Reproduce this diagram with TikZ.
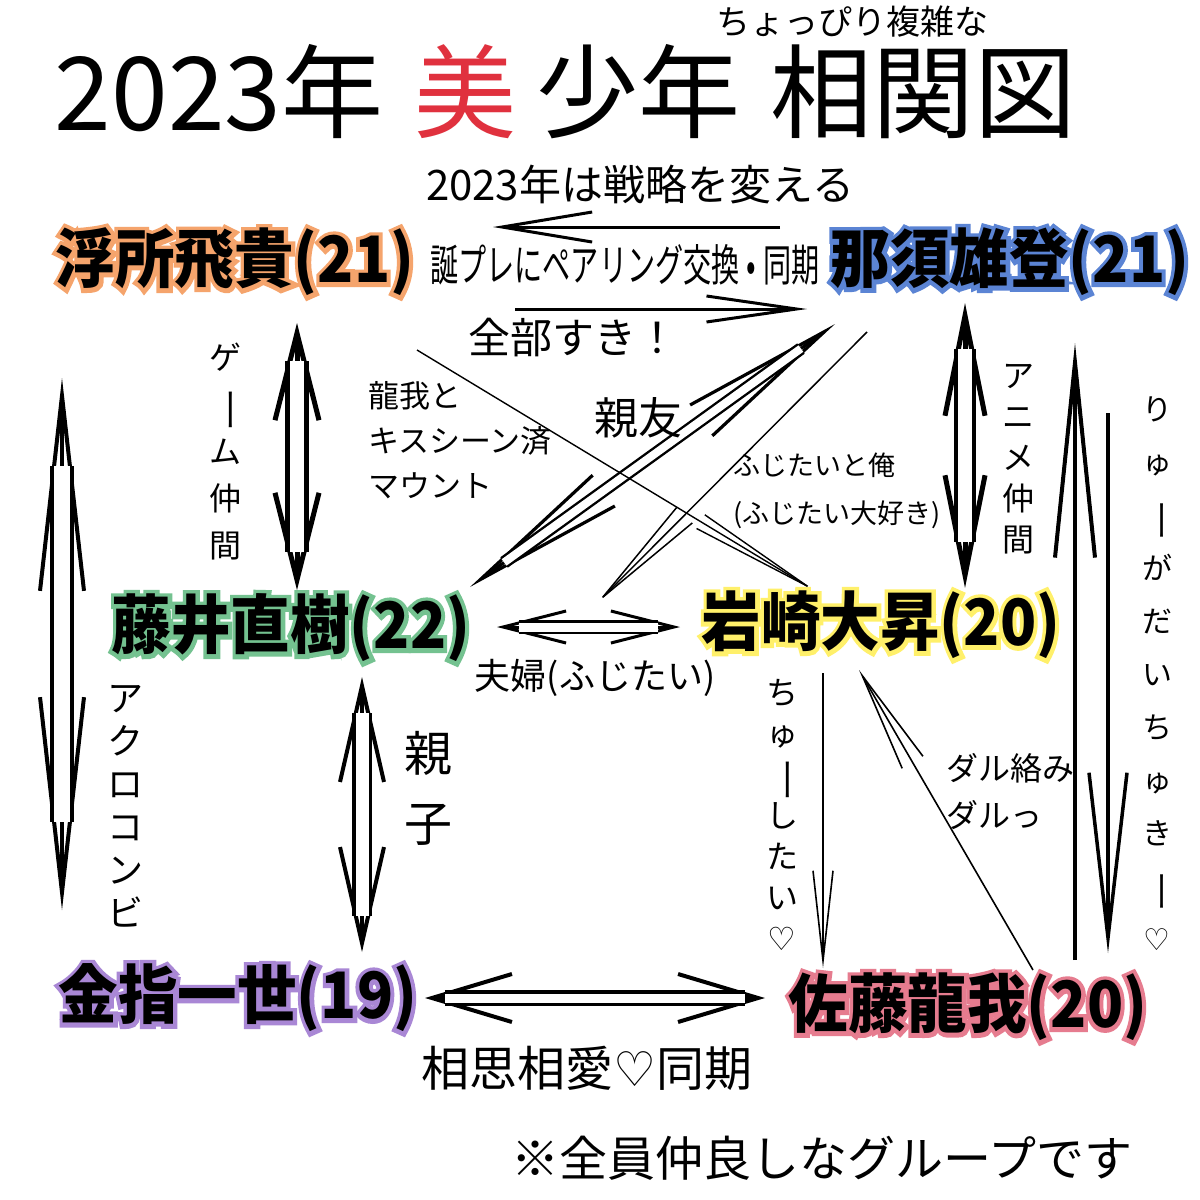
\documentclass[tikz,border=0pt]{standalone}
\usepackage{fontspec}
\setmainfont{Noto Sans CJK JP}
\newfontfamily\symfont{DejaVu Sans}
\newfontfamily\glowfont{Noto Sans CJK JP}[FakeBold=13, BoldFeatures={FakeBold=13}]
\usetikzlibrary{arrows.meta,calc}

\definecolor{bired}{HTML}{E0313E}
\definecolor{ukishoc}{HTML}{F5A46C}
\definecolor{nasuc}{HTML}{5B84D4}
\definecolor{fujiic}{HTML}{74C290}
\definecolor{iwasakic}{HTML}{FFF06A}
\definecolor{kanazashic}{HTML}{A987D5}
\definecolor{satoc}{HTML}{E67C8F}

\newcommand\heart{{\symfont ♡}}
\newcommand\vbar{\smash{\rotatebox[origin=c]{-90}{\scalebox{1.4}[1]{ー}}}}
\newcommand\halo[2]{\scalebox{.93}[1]{\rlap{\glowfont\textcolor{#1}{#2}}#2}}

\tikzset{
  txt/.style 2 args={inner sep=0pt, font=\fontsize{#1}{#2}\selectfont},
  person/.style={inner sep=0pt, font=\fontsize{32}{32}\selectfont\bfseries},
  tip/.style 2 args={>={Straight Barb[length=#1,width=#2]}, ->},
  tips/.style 2 args={>={Straight Barb[length=#1,width=#2]}, <->},
  pair/.style 2 args={double, double distance=#1, line width=#2},
}

\begin{document}
\begin{tikzpicture}[x=0.5pt, y=-0.5pt]
\fill[white] (0,0) rectangle (1200,1200);
\useasboundingbox (0,0) rectangle (1200,1200);

\node[txt={17}{17}] (sub) at (852,22) {ちょっぴり複雑な};
\node[txt={51}{51}] (title) at (566,92) {2023年\hspace{.3em}\textcolor{bired}{美}\hspace{.2em}少年\hspace{.3em}相関図};

\node[person] (ukisho) at (235,262) {\halo{ukishoc}{浮所飛貴(21)}};
\node[person] (nasu) at (1010,262) {\halo{nasuc}{那須雄登(21)}};
\node[person] (fujii) at (291,628) {\halo{fujiic}{藤井直樹(22)}};
\node[person] (iwasaki) at (881,625) {\halo{iwasakic}{岩崎大昇(20)}};
\node[person] (kanazashi) at (238,998) {\halo{kanazashic}{金指一世(19)}};
\node[person] (sato) at (968,1007) {\halo{satoc}{佐藤龍我(20)}};
\coordinate (fujitai) at (597,603);

\draw[line width=2.5pt, tips={43.5pt}{22pt}] ($(ukisho)+(62,61)$) -- ($(fujii)+(6,-38)$);
\draw[pair={7pt}{2.5pt}, shorten <=19pt, shorten >=19pt] ($(ukisho)+(62,61)$) -- ($(fujii)+(6,-38)$);
\draw[line width=2.5pt, tips={50pt}{20pt}] ($(nasu)+(-45,41)$) -- ($(iwasaki)+(84,-37)$);
\draw[pair={7pt}{2.2pt}, shorten <=23pt, shorten >=23pt] ($(nasu)+(-45,41)$) -- ($(iwasaki)+(84,-37)$);
\draw[line width=2pt, tips={97.5pt}{22pt}] ($(ukisho)+(-173,116)$) -- ($(kanazashi)+(-176,-88)$);
\draw[pair={8pt}{2pt}, shorten <=44pt, shorten >=44pt] ($(ukisho)+(-173,116)$) -- ($(kanazashi)+(-176,-88)$);
\draw[line width=2pt, tips={48pt}{22pt}] ($(fujii)+(71,49)$) -- ($(kanazashi)+(124,-46)$);
\draw[pair={6.5pt}{1.8pt}, shorten <=18pt, shorten >=18pt] ($(fujii)+(71,49)$) -- ($(kanazashi)+(124,-46)$);
\draw[line width=1.5pt, tips={31.5pt}{16pt}] ($(fujii)+(206,-1)$) -- ($(iwasaki)+(-201,2)$);
\draw[pair={4.5pt}{1.3pt}, shorten <=11pt, shorten >=11pt] ($(fujii)+(206,-1)$) -- ($(iwasaki)+(-201,2)$);
\draw[line width=2pt, tips={40pt}{24pt}] ($(kanazashi)+(187,0)$) -- ($(sato)+(-203,-9)$);
\draw[pair={4.5pt}{1.6pt}, shorten <=10pt, shorten >=10pt] ($(kanazashi)+(187,0)$) -- ($(sato)+(-203,-9)$);
\draw[line width=1.6pt, tips={76pt}{19pt}] ($(fujii)+(179,-41)$) -- ($(nasu)+(-175,62)$);
\draw[pair={4pt}{1.2pt}, shorten <=21pt, shorten >=21pt] ($(fujii)+(179,-41)$) -- ($(nasu)+(-175,62)$);

\draw[line width=1.5pt, tip={45pt}{15pt}] ($(nasu)+(-230,-35)$) -- ($(ukisho)+(258,-35)$);
\draw[line width=1.5pt, tip={45pt}{13pt}] ($(ukisho)+(280,47)$) -- ($(nasu)+(-203,47)$);
\draw[line width=.7pt, tip={62.5pt}{8pt}] ($(ukisho)+(182,88)$) -- ($(iwasaki)+(-64,-33)$);
\draw[line width=.75pt, tip={58pt}{11pt}] ($(nasu)+(-143,70)$) -- (fujitai);
\draw[line width=.8pt, tip={45pt}{10pt}] ($(iwasaki)+(-58,48)$) -- ($(sato)+(-145,-39)$);
\draw[line width=.8pt, tip={50pt}{12pt}] ($(sato)+(65,-37)$) -- ($(iwasaki)+(-22,45)$);
\draw[line width=2pt, tip={97.5pt}{20pt}] ($(sato)+(107,-47)$) -- ($(nasu)+(65,81)$);
\draw[line width=1.75pt, tip={82.5pt}{19pt}] ($(nasu)+(98,151)$) -- ($(sato)+(140,-54)$);

\node[txt={21}{21}] (strategy) at (640,185) {2023年は戦略を変える};
\node[txt={22}{22}] (ring) at (625,265) {\scalebox{0.64}[1]{誕プレにペアリング交換\hspace{.25em}•\hspace{.25em}同期}};
\node[txt={21}{21}] (suki) at (573,338) {全部すき！};
\node[txt={16}{23.5}, align=center] (game) at (225,452) {ゲ\\\vbar\\ム\\仲\\間};
\node[txt={15.5}{22.5}, align=left, anchor=west] (kiss) at (368,440) {龍我と\\キスシーン済\\マウント};
\node[txt={22}{22}] (shinyu) at (638,418) {親友};
\node[txt={13.5}{24}, align=left, anchor=west] (love) at (733,491) {ふじたいと俺\\(ふじたい大好き)};
\node[txt={16}{20.5}, align=center] (anime) at (1018,459) {ア\\ニ\\メ\\仲\\間};
\node[txt={15}{26.5}, align=center] (ryuga) at (1157,674) {り\\ゅ\\\vbar\\が\\だ\\い\\ち\\ゅ\\き\\\vbar\\\heart};
\node[txt={18}{18}] (fufu) at (595,678) {夫婦(ふじたい)};
\node[txt={18}{21.5}, align=center] (acro) at (125,806) {ア\\ク\\ロ\\コ\\ン\\ビ};
\node[txt={24}{35}, align=center] (oyako) at (428,788) {親\\子};
\node[txt={16}{20.5}, align=center] (chu) at (782,815) {ち\\ゅ\\\vbar\\し\\た\\い\\\heart};
\node[txt={16}{23.5}, align=left, anchor=west] (daru) at (946,792) {ダル絡み\\ダルっ};
\node[txt={24}{24}] (soshi) at (587,1068) {相思相愛\heart 同期};
\node[txt={24}{24}] (group) at (822,1158) {※全員仲良しなグループです};
\end{tikzpicture}
\end{document}
